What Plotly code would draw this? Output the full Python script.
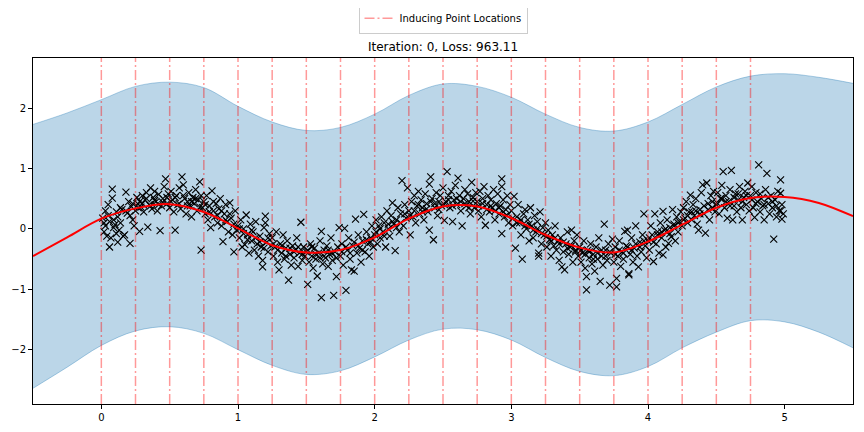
import plotly.graph_objects as go

train_x = [
    0.01, 0.02, 0.03, 0.03, 0.04, 0.05, 0.06, 0.06, 0.07, 0.08, 0.08, 0.09, 0.10, 0.11, 0.12, 0.12, 0.13, 0.14, 0.15, 0.16, 0.17, 0.18, 0.19, 0.20, 0.21, 0.22, 0.23, 0.24,
    0.25, 0.26, 0.27, 0.28, 0.28, 0.29, 0.30, 0.31, 0.32, 0.33, 0.34, 0.35, 0.36, 0.37, 0.38, 0.39, 0.40, 0.41, 0.42, 0.43, 0.44, 0.45, 0.46, 0.47, 0.48, 0.49,
    0.50, 0.51, 0.52, 0.53, 0.54, 0.55, 0.56, 0.57, 0.58, 0.59, 0.60, 0.61, 0.62, 0.63, 0.64, 0.65, 0.66, 0.67, 0.68, 0.69, 0.70, 0.71, 0.72, 0.73, 0.73, 0.74,
    0.75, 0.76, 0.77, 0.78, 0.79, 0.80, 0.81, 0.82, 0.83, 0.84, 0.85, 0.86, 0.87, 0.88, 0.89, 0.90, 0.91, 0.92, 0.93, 0.94, 0.95, 0.96, 0.97, 0.98, 0.99,
    1.00, 1.01, 1.02, 1.03, 1.04, 1.05, 1.06, 1.07, 1.08, 1.09, 1.10, 1.11, 1.12, 1.13, 1.14, 1.15, 1.16, 1.17, 1.18, 1.18, 1.19, 1.20, 1.20, 1.21, 1.22, 1.23, 1.24,
    1.25, 1.26, 1.27, 1.28, 1.29, 1.30, 1.31, 1.32, 1.33, 1.34, 1.35, 1.36, 1.37, 1.38, 1.39, 1.40, 1.41, 1.42, 1.43, 1.44, 1.45, 1.46, 1.47, 1.48, 1.49,
    1.50, 1.51, 1.52, 1.53, 1.54, 1.55, 1.56, 1.57, 1.58, 1.59, 1.60, 1.61, 1.61, 1.62, 1.63, 1.64, 1.65, 1.66, 1.67, 1.68, 1.69, 1.70, 1.71, 1.72, 1.73, 1.74,
    1.75, 1.76, 1.77, 1.78, 1.79, 1.80, 1.81, 1.82, 1.83, 1.84, 1.85, 1.86, 1.87, 1.88, 1.89, 1.90, 1.91, 1.92, 1.93, 1.94, 1.95, 1.96, 1.97, 1.98, 1.99,
    2.00, 2.01, 2.02, 2.03, 2.04, 2.05, 2.06, 2.07, 2.08, 2.09, 2.10, 2.11, 2.12, 2.13, 2.14, 2.15, 2.16, 2.17, 2.18, 2.19, 2.20, 2.21, 2.22, 2.23, 2.24,
    2.25, 2.26, 2.27, 2.28, 2.29, 2.30, 2.31, 2.32, 2.33, 2.34, 2.35, 2.36, 2.37, 2.38, 2.39, 2.40, 2.40, 2.41, 2.42, 2.43, 2.44, 2.45, 2.46, 2.47, 2.48, 2.49,
    2.50, 2.51, 2.52, 2.53, 2.54, 2.55, 2.56, 2.57, 2.58, 2.59, 2.60, 2.61, 2.62, 2.63, 2.64, 2.65, 2.66, 2.67, 2.68, 2.69, 2.70, 2.71, 2.72, 2.73, 2.74,
    2.75, 2.76, 2.77, 2.78, 2.79, 2.80, 2.81, 2.82, 2.83, 2.84, 2.85, 2.86, 2.87, 2.88, 2.89, 2.90, 2.91, 2.92, 2.93, 2.93, 2.93, 2.94, 2.95, 2.96, 2.97, 2.98, 2.99,
    3.00, 3.01, 3.02, 3.03, 3.04, 3.05, 3.06, 3.07, 3.08, 3.09, 3.10, 3.11, 3.12, 3.13, 3.14, 3.15, 3.16, 3.17, 3.18, 3.19, 3.20, 3.20, 3.21, 3.22, 3.23, 3.24,
    3.25, 3.26, 3.27, 3.28, 3.29, 3.30, 3.31, 3.32, 3.33, 3.34, 3.35, 3.36, 3.37, 3.38, 3.39, 3.40, 3.41, 3.42, 3.43, 3.44, 3.45, 3.46, 3.47, 3.48, 3.49,
    3.50, 3.51, 3.52, 3.53, 3.54, 3.55, 3.55, 3.56, 3.57, 3.58, 3.59, 3.60, 3.61, 3.62, 3.63, 3.64, 3.65, 3.66, 3.67, 3.68, 3.69, 3.70, 3.71, 3.72, 3.73, 3.74,
    3.75, 3.76, 3.77, 3.77, 3.78, 3.79, 3.80, 3.81, 3.82, 3.83, 3.84, 3.85, 3.86, 3.86, 3.87, 3.88, 3.89, 3.90, 3.91, 3.92, 3.93, 3.94, 3.95, 3.96, 3.97, 3.98, 3.99,
    4.00, 4.01, 4.02, 4.03, 4.04, 4.05, 4.06, 4.07, 4.08, 4.09, 4.10, 4.11, 4.11, 4.12, 4.13, 4.14, 4.15, 4.16, 4.17, 4.18, 4.19, 4.20, 4.21, 4.22, 4.23, 4.24,
    4.25, 4.26, 4.27, 4.28, 4.29, 4.30, 4.31, 4.32, 4.33, 4.34, 4.35, 4.36, 4.37, 4.38, 4.39, 4.40, 4.41, 4.42, 4.43, 4.44, 4.45, 4.46, 4.47, 4.48, 4.49,
    4.50, 4.51, 4.52, 4.53, 4.54, 4.55, 4.56, 4.57, 4.58, 4.59, 4.60, 4.61, 4.62, 4.63, 4.64, 4.65, 4.66, 4.67, 4.68, 4.69, 4.70, 4.71, 4.72, 4.73, 4.74,
    4.75, 4.76, 4.77, 4.78, 4.79, 4.80, 4.81, 4.82, 4.83, 4.84, 4.85, 4.86, 4.87, 4.88, 4.89, 4.90, 4.91, 4.92, 4.93, 4.94, 4.95, 4.96, 4.97, 4.97, 4.98, 4.98, 4.99,
]
train_y = [
    0.18, -0.05, 0.30, 0.05, -0.12, 0.40, -0.30, 0.12, -0.15, 0.51, 0.66, 0.02, 0.07, -0.08, 0.20, -0.22, -0.02, 0.10, 0.32, -0.12, -0.10, 0.61, 0.26, 0.45, -0.24, 0.37, 0.15, 0.05,
    0.30, 0.52, 0.41, 0.45, -0.04, 0.36, 0.55, 0.28, 0.48, 0.60, 0.03, 0.40, 0.68, 0.33, 0.52, 0.62, 0.45, 0.30, 0.57, -0.03, 0.38, 0.50, 0.70, 0.83, 0.42, 0.58,
    0.35, 0.62, 0.48, 0.28, -0.02, 0.55, 0.40, 0.68, 0.33, 0.86, 0.73, 0.50, 0.25, 0.45, 0.60, 0.38, 0.20, 0.52, 0.42, 0.65, 0.30, 0.48, 0.78, -0.35, 0.55, 0.35,
    0.45, 0.25, 0.55, 0.15, 0.38, 0.02, 0.63, 0.30, 0.20, 0.42, 0.10, 0.33, 0.50, 0.05, -0.21, 0.25, 0.40, 0.12, -0.05, 0.43, 0.18, -0.10, -0.38, 0.30, -0.02,
    0.05, -0.15, 0.15, -0.30, 0.00, -0.26, 0.23, -0.10, -0.40, 0.08, -0.20, -0.05, -0.35, 0.12, -0.25, -0.45, -0.12, -0.30, -0.52, -0.63, 0.02, 0.21, 0.10, -0.22, -0.38, -0.08, -0.28,
    -0.15, -0.45, -0.30, -0.05, -0.55, -0.68, -0.25, -0.40, -0.10, -0.50, -0.32, -0.20, -0.85, -0.42, -0.60, -0.28, -0.48, -0.35, -0.15, -0.62, -0.40, 0.11, -0.52, -0.30, -0.45,
    -0.38, -0.92, -0.55, -0.25, -0.45, -0.65, -0.32, -0.50, -0.78, -0.40, -0.20, -1.14, -0.04, -0.58, -0.35, -0.48, -0.28, -0.62, -0.42, -0.15, -0.52, -1.10, -0.38, -0.79, -0.30, 0.02,
    -0.45, -0.25, -0.60, 0.01, -1.02, -0.35, -0.15, -0.50, -0.68, -0.28, -0.70, 0.16, -0.40, -0.10, -0.32, -0.55, -0.20, 0.24, -0.38, -0.05, -0.25, -0.45, -0.15, 0.05, -0.30,
    -0.10, 0.15, -0.25, 0.05, -0.15, 0.20, -0.05, 0.10, -0.30, 0.30, 0.00, -0.12, 0.22, 0.43, 0.08, -0.36, 0.15, 0.35, -0.05, 0.25, 0.80, 0.05, 0.40, 0.18, 0.68,
    0.30, -0.10, 0.45, 0.20, 0.55, 0.10, 0.38, 0.62, 0.25, 0.48, 0.35, 0.15, 0.58, 0.42, 0.28, 0.74, -0.02, 0.86, 0.50, -0.18, 0.35, 0.60, 0.22, 0.45, 0.55, 0.38,
    0.68, 0.14, 0.45, 0.95, 0.55, 0.35, 0.62, 0.12, 0.48, 0.72, 0.40, 0.84, 0.55, 0.30, 0.05, 0.50, 0.65, 0.38, 0.58, 0.45, 0.25, 0.77, 0.52, 0.35, 0.60,
    0.45, 0.30, 0.62, 0.20, 0.50, 0.70, 0.06, 0.40, 0.55, 0.28, 0.48, 0.35, 0.65, 0.15, 0.42, 0.58, 0.25, 0.38, 0.83, 0.70, -0.08, 0.48, 0.20, 0.32, 0.55, 0.10, 0.40,
    0.30, 0.05, 0.54, -0.32, 0.20, 0.40, 0.10, -0.10, -0.50, 0.25, 0.32, 0.00, 0.15, -0.20, 0.35, 0.05, -0.15, 0.22, -0.05, 0.12, -0.40, -0.45, 0.28, -0.25, 0.02, -0.10,
    0.10, -0.30, -0.02, -0.18, -0.45, -0.10, -0.28, 0.05, -0.35, -0.20, -0.52, -0.15, -0.63, -0.38, -0.68, -0.25, -0.05, -0.42, -0.30, -0.02, -0.55, -0.20, -0.35, -0.10, -0.45,
    -0.30, -0.55, -0.40, -0.20, -0.65, -0.79, -1.01, -0.35, -0.48, -0.25, -0.58, -0.42, -0.70, -0.30, -0.50, -0.15, -0.87, -0.45, -0.60, 0.08, -0.35, -0.52, -0.25, -0.93, -0.40, -0.17,
    -0.55, -0.30, -0.96, -0.82, -0.45, -0.20, -0.62, -0.38, -0.50, -0.04, -0.28, -0.02, -0.74, -0.76, -0.42, -0.15, -0.55, -0.32, 0.05, -0.45, -0.63, -0.22, -0.38, -0.10, 0.25, -0.28, -0.48,
    -0.20, -0.35, 0.05, -0.10, -0.54, 0.25, -0.25, -0.05, -0.40, 0.10, -0.15, 0.29, -0.43, -0.02, -0.30, 0.15, -0.24, 0.02, -0.13, 0.32, 0.08, -0.20, 0.20, -0.05, 0.12, 0.28,
    0.05, 0.35, 0.18, 0.45, 0.10, 0.28, 0.56, 0.15, 0.40, 0.22, 0.50, 0.08, -0.02, 0.32, 0.60, 0.73, 0.25, -0.07, 0.76, 0.42, 0.15, 0.55, 0.35, 0.62, 0.28,
    0.40, 0.60, 0.25, 0.50, 0.72, 0.95, 0.35, 0.55, 0.18, 0.45, 0.65, 0.97, 0.15, 0.38, 0.58, 0.28, 0.48, 0.70, 0.35, 0.15, 0.52, 0.62, 0.40, 0.76, 0.30,
    0.55, 0.70, 0.35, 0.19, 0.60, 0.45, 1.06, 0.28, 0.50, 0.38, 0.15, 0.65, 0.92, 0.42, 0.25, 0.55, 0.35, -0.17, 0.48, 0.20, 0.62, 0.30, 0.81, 0.59, 0.16, 0.40, 0.25,
]

# more observations in the dense core of the cloud
core_x = [
    0.02, 0.05, 0.09, 0.11, 0.14, 0.18, 0.21, 0.23, 0.27, 0.30, 0.33, 0.36, 0.39, 0.42, 0.45, 0.48,
    0.51, 0.54, 0.57, 0.60, 0.63, 0.66, 0.69, 0.72, 0.76, 0.79, 0.82, 0.85, 0.88, 0.91, 0.94, 0.97,
    1.01, 1.04, 1.07, 1.10, 1.13, 1.16, 1.19, 1.22, 1.26, 1.29, 1.32, 1.35, 1.38, 1.41, 1.44, 1.47,
    1.51, 1.54, 1.57, 1.60, 1.63, 1.66, 1.69, 1.72, 1.76, 1.79, 1.82, 1.85, 1.88, 1.91, 1.94, 1.97,
    2.01, 2.04, 2.07, 2.10, 2.13, 2.16, 2.19, 2.22, 2.26, 2.29, 2.32, 2.35, 2.38, 2.41, 2.44, 2.47,
    2.51, 2.54, 2.57, 2.60, 2.63, 2.66, 2.69, 2.72, 2.76, 2.79, 2.82, 2.85, 2.88, 2.91, 2.94, 2.97,
    3.01, 3.04, 3.07, 3.10, 3.13, 3.16, 3.19, 3.22, 3.26, 3.29, 3.32, 3.35, 3.38, 3.41, 3.44, 3.47,
    3.51, 3.54, 3.57, 3.60, 3.63, 3.66, 3.69, 3.72, 3.76, 3.79, 3.82, 3.85, 3.88, 3.91, 3.94, 3.97,
    4.01, 4.04, 4.07, 4.10, 4.13, 4.16, 4.19, 4.22, 4.26, 4.29, 4.32, 4.35, 4.38, 4.41, 4.44, 4.47,
    4.51, 4.54, 4.57, 4.60, 4.63, 4.66, 4.69, 4.72, 4.76, 4.79, 4.82, 4.85, 4.88, 4.91, 4.94, 4.97,
]
core_y = [
    0.10, 0.22, 0.15, 0.28, 0.35, 0.30, 0.22, 0.42, 0.35, 0.42, 0.50, 0.38, 0.47, 0.40, 0.44, 0.52,
    0.45, 0.52, 0.42, 0.55, 0.38, 0.45, 0.50, 0.36, 0.40, 0.28, 0.45, 0.22, 0.30, 0.15, 0.25, 0.08,
    0.00, -0.08, -0.18, -0.02, -0.15, -0.22, -0.32, -0.15, -0.25, -0.35, -0.28, -0.45, -0.32, -0.38, -0.30, -0.42,
    -0.35, -0.30, -0.42, -0.48, -0.45, -0.35, -0.40, -0.48, -0.38, -0.30, -0.40, -0.22, -0.28, -0.35, -0.18, -0.22,
    -0.05, 0.00, -0.12, 0.08, 0.12, 0.02, 0.10, 0.25, 0.22, 0.30, 0.40, 0.28, 0.33, 0.45, 0.42, 0.32,
    0.40, 0.48, 0.38, 0.50, 0.45, 0.42, 0.35, 0.46, 0.38, 0.42, 0.32, 0.38, 0.30, 0.35, 0.28, 0.22,
    0.18, 0.10, 0.15, 0.05, 0.08, -0.02, 0.00, -0.08, -0.12, -0.20, -0.15, -0.25, -0.22, -0.32, -0.28, -0.38,
    -0.35, -0.42, -0.38, -0.50, -0.40, -0.35, -0.45, -0.38, -0.42, -0.35, -0.40, -0.30, -0.35, -0.25, -0.30, -0.20,
    -0.15, -0.22, -0.10, -0.05, 0.00, -0.08, 0.05, 0.10, 0.15, 0.22, 0.28, 0.30, 0.25, 0.38, 0.32, 0.45,
    0.42, 0.50, 0.45, 0.38, 0.52, 0.58, 0.45, 0.55, 0.48, 0.42, 0.58, 0.40, 0.52, 0.45, 0.38, 0.30,
]

# predictive mean and confidence region
test_x = [-0.5, -0.25, 0.0, 0.25, 0.5, 0.75, 1.0, 1.25, 1.5, 1.75, 2.0, 2.25, 2.5,
          2.75, 3.0, 3.25, 3.5, 3.75, 4.0, 4.25, 4.5, 4.75, 5.0, 5.25, 5.5]
mean_y = [-0.45, -0.14, 0.17, 0.34, 0.41, 0.28, 0.01, -0.27, -0.39, -0.35, -0.14, 0.17, 0.37,
          0.37, 0.18, -0.10, -0.31, -0.39, -0.21, 0.07, 0.35, 0.51, 0.53, 0.43, 0.21]
upper_y = [1.73, 1.92, 2.14, 2.36, 2.43, 2.34, 2.03, 1.77, 1.63, 1.68, 1.90, 2.21, 2.40,
           2.36, 2.18, 1.90, 1.68, 1.62, 1.77, 2.06, 2.35, 2.53, 2.57, 2.51, 2.41]
lower_y = [-2.64, -2.29, -1.93, -1.69, -1.62, -1.73, -2.00, -2.26, -2.41, -2.35, -2.12, -1.84, -1.66,
           -1.67, -1.84, -2.13, -2.36, -2.43, -2.28, -1.97, -1.71, -1.52, -1.54, -1.71, -1.97]

inducing_x = [0.0, 0.25, 0.5, 0.75, 1.0, 1.25, 1.5, 1.75, 2.0, 2.25,
              2.5, 2.75, 3.0, 3.25, 3.5, 3.75, 4.0, 4.25, 4.5, 4.75]

x_range = [-0.5, 5.5]
y_range = [-2.90, 2.83]

fig = go.Figure()

fig.add_trace(go.Scatter(x=test_x, y=lower_y, mode="lines", line=dict(color="rgba(31,119,180,0.35)", width=1, shape="spline"),
                         showlegend=False, hoverinfo="skip"))
fig.add_trace(go.Scatter(x=test_x, y=upper_y, mode="lines", line=dict(color="rgba(31,119,180,0.35)", width=1, shape="spline"),
                         fill="tonexty", fillcolor="rgba(31,119,180,0.3)", showlegend=False, hoverinfo="skip"))

fig.add_trace(go.Scatter(x=train_x + core_x, y=train_y + core_y, mode="markers", showlegend=False,
                         marker=dict(symbol="x-thin", size=7, line=dict(color="black", width=1.1))))

fig.add_trace(go.Scatter(x=test_x, y=mean_y, mode="lines", showlegend=False,
                         line=dict(color="red", width=2, shape="spline")))

# vertical lines spanning the whole axis height, one trace so it gets one legend entry
vx, vy = [], []
for xi in inducing_x:
    vx += [xi, xi, None]
    vy += [y_range[0], y_range[1], None]
fig.add_trace(go.Scatter(x=vx, y=vy, mode="lines", name="Inducing Point Locations",
                         line=dict(color="rgba(255,0,0,0.4)", width=1.5, dash="10px,3px,2px,3px")))

axis_style = dict(showline=True, linecolor="black", linewidth=1, mirror=True, ticks="outside",
                  ticklen=4, tickcolor="black", showgrid=False, zeroline=False, automargin=False,
                  tickfont=dict(family="DejaVu Sans", size=10, color="black"))
fig.update_xaxes(range=x_range, tickvals=[0, 1, 2, 3, 4, 5], **axis_style)
fig.update_yaxes(range=y_range, tickvals=[-2, -1, 0, 1, 2], **axis_style)

# the page body adds an 8px offset, so the figure is a bit smaller than the window
fig.update_layout(
    width=856,
    height=424,
    margin=dict(l=25, r=11, t=50, b=28, autoexpand=False),
    plot_bgcolor="white",
    paper_bgcolor="white",
    font=dict(family="DejaVu Sans", color="black"),
    title=dict(text="Iteration: 0, Loss: 963.11", x=0.5, xref="paper", xanchor="center",
               y=1, yref="paper", yanchor="bottom", pad=dict(b=7), font=dict(size=12)),
    legend=dict(x=0.5, xanchor="center", y=1.16, yanchor="top", orientation="h",
                bordercolor="#cccccc", borderwidth=1, bgcolor="white",
                font=dict(size=10)),
)

fig.write_html("out.html")
